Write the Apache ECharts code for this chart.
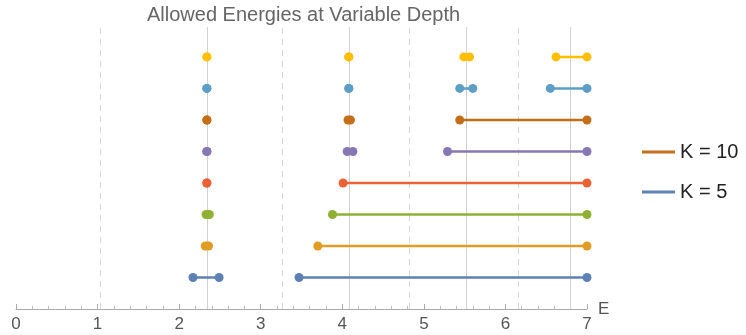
<!DOCTYPE html>
<html>
<head>
<meta charset="utf-8">
<script src="https://cdn.jsdelivr.net/npm/echarts@6/dist/echarts.min.js"></script>
<style>
  html, body { margin: 0; padding: 0; background: #fff; }
  #chart { width: 746px; height: 335px; }
</style>
</head>
<body>
<div id="chart"></div>
<script>
// allowed energy bands per row, bottom row first: [from, to]
const bands = [
  [[2.17, 2.49], [3.47, 7]],
  [[2.32, 2.36], [3.70, 7]],
  [[2.33, 2.37], [3.88, 7]],
  [[2.34, 2.34], [4.01, 7]],
  [[2.34, 2.34], [4.06, 4.13], [5.29, 7]],
  [[2.34, 2.34], [4.07, 4.10], [5.44, 7]],
  [[2.34, 2.34], [4.08, 4.08], [5.44, 5.60], [6.55, 7]],
  [[2.34, 2.34], [4.08, 4.08], [5.49, 5.56], [6.62, 7]],
];
const rowColors = ['#5E81B5', '#E19C24', '#8FB032', '#EB6235', '#8778B3', '#C56E1A', '#5D9EC7', '#FFBF00'];
// rows that get a legend entry
const legendRows = { 0: 'K = 5', 5: 'K = 10' };
const legendNames = ['K = 10', 'K = 5'];

// reference energies drawn as vertical guides
const solidLines = [2.34, 4.09, 5.52, 6.79];
const dashedLines = [1.03, 3.26, 4.82, 6.16];

const xMin = 0;
const xMax = 7;

const font = '"Liberation Sans", Arial, sans-serif';

let myChart = echarts.init(document.getElementById('chart'));

let series = [];
bands.forEach((row, i) => {
  row.forEach((seg) => {
    series.push({
      name: legendRows[i] || ('row' + i),
      type: 'line',
      data: [[seg[0], i + 1], [seg[1], i + 1]],
      symbol: 'circle',
      symbolSize: 9,
      showSymbol: true,
      silent: true,
      color: rowColors[i],
      itemStyle: { color: rowColors[i] },
      lineStyle: { color: rowColors[i], width: 2.5 },
      z: 3,
    });
  });
});

// guide lines, kept under the marks
series.push({
  type: 'line',
  data: [],
  silent: true,
  z: 1,
  markLine: {
    symbol: 'none',
    silent: true,
    z: 1,
    label: { show: false },
    data: solidLines.map((v) => ({
      xAxis: v,
      lineStyle: { color: '#d2d2d2', type: 'solid', width: 1 },
    })).concat(dashedLines.map((v) => ({
      xAxis: v,
      lineStyle: { color: '#d6d6d6', type: [6, 5], width: 1 },
    }))),
  },
});

let option = {
  animation: false,
  backgroundColor: '#fff',
  title: {
    text: 'Allowed Energies at Variable Depth',
    left: 142,
    top: 0,
    textStyle: { fontFamily: font, fontSize: 20, fontWeight: 'normal', color: '#666' },
  },
  legend: {
    data: legendNames.map((n) => ({ name: n, icon: 'rect' })),
    orient: 'vertical',
    left: 637,
    top: 137,
    itemWidth: 33,
    itemHeight: 3,
    itemGap: 20,
    selectedMode: false,
    textStyle: { fontFamily: font, fontSize: 20, color: '#222', lineHeight: 20 },
  },
  grid: { left: 16, right: 159, top: 27, bottom: 26, containLabel: false },
  xAxis: {
    type: 'value',
    min: xMin,
    max: xMax,
    interval: 1,
    name: 'E',
    nameLocation: 'end',
    nameGap: 11,
    nameTextStyle: { fontFamily: font, fontSize: 17, color: '#555', verticalAlign: 'middle' },
    axisLine: { show: true, lineStyle: { color: '#aaa', width: 1 } },
    axisTick: { show: true, inside: true, length: 5, lineStyle: { color: '#aaa' } },
    minorTick: { show: true, splitNumber: 5, length: 3, lineStyle: { color: '#bbb' } },
    axisLabel: { fontFamily: font, fontSize: 17, color: '#555', margin: 7 },
    splitLine: { show: false },
  },
  yAxis: {
    type: 'value',
    min: 0,
    max: 8.95,
    show: false,
  },
  series,
};
myChart.setOption(option);
</script>
</body>
</html>
